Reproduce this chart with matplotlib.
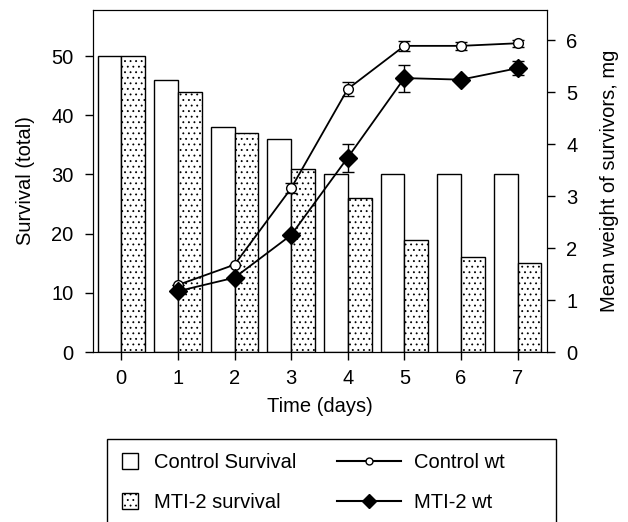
import matplotlib
matplotlib.use("Agg")
import matplotlib.pyplot as plt
from matplotlib.lines import Line2D
from matplotlib.patches import Patch, Rectangle
from matplotlib.legend_handler import HandlerPatch
import numpy as np

plt.rcParams['font.family'] = ['Liberation Sans', 'DejaVu Sans']
plt.rcParams['hatch.linewidth'] = 0.6

days = [0, 1, 2, 3, 4, 5, 6, 7]
control_surv = [50, 46, 38, 36, 30, 30, 30, 30]
mti_surv = [50, 44, 37, 31, 26, 19, 16, 15]

wt_days = [1, 2, 3, 4, 5, 6, 7]
control_wt = [1.29, 1.68, 3.15, 5.06, 5.89, 5.89, 5.94]
control_err = [0.0, 0.0, 0.1, 0.13, 0.1, 0.08, 0.07]
mti_wt = [1.17, 1.43, 2.25, 3.74, 5.27, 5.24, 5.46]
mti_err = [0.0, 0.0, 0.0, 0.27, 0.26, 0.0, 0.14]

FS = 14.5

fig = plt.figure(figsize=(6.28, 5.22), dpi=100)
ax = fig.add_axes([93/628, 1-352/522, (547-93)/628, (352-10)/522])
x = np.array(days)
w = 0.42
ax.bar(x - w/2, control_surv, w, color='white', edgecolor='black', linewidth=1)
ax.bar(x + w/2, mti_surv, w, color='white', edgecolor='black', linewidth=1, hatch='...')
ax.set_xlim(-0.5, 7.52)
ax.set_ylim(0, 57.8)
ax.set_xticks(days)
ax.set_yticks([0, 10, 20, 30, 40, 50])
ax.set_xlabel('Time (days)', fontsize=FS, labelpad=6)
ax.set_ylabel('Survival (total)', fontsize=FS, labelpad=12)
ax.tick_params(axis='y', labelsize=FS, length=5.5, width=1, pad=8.5)
ax.tick_params(axis='x', labelsize=FS, length=5.5, width=1, pad=7)

ax2 = ax.twinx()
ax2.errorbar(wt_days, control_wt, yerr=control_err, color='black', lw=1.3, marker='o',
             ms=7, mfc='white', mec='black', capsize=4, elinewidth=1)
ax2.errorbar(wt_days, mti_wt, yerr=mti_err, color='black', lw=1.3, marker='D',
             ms=9, mfc='black', mec='black', capsize=4, elinewidth=1)
ax2.set_ylim(0, 6.58)
ax2.set_yticks([0, 1, 2, 3, 4, 5, 6])
ax2.set_ylabel('Mean weight of survivors, mg', fontsize=FS, labelpad=16)
ax2.tick_params(labelsize=FS, length=5.5, width=1, pad=8.5)

# legend box, bottom edge runs off the figure
fig.patches.append(Rectangle((107/628, -0.05), (556-107)/628, (522-439)/522 + 0.05,
                             transform=fig.transFigure, fill=False,
                             edgecolor='black', linewidth=1))


def square(legend, orig_handle, xdescent, ydescent, width, height, fontsize):
    s = height
    return Rectangle((-xdescent, -ydescent + (height - s) / 2), s, s)


bar_handles = [Patch(facecolor='white', edgecolor='black'),
               Patch(facecolor='white', edgecolor='black', hatch='...')]
line_handles = [Line2D([], [], color='black', marker='o', ms=5, mfc='white'),
                Line2D([], [], color='black', marker='D', ms=7, mfc='black')]

ymid = 1 - 482.5/522
fig.legend(bar_handles, ['Control Survival', 'MTI-2 survival'],
           loc='center left', bbox_to_anchor=(122/628, ymid),
           fontsize=FS, frameon=False, handlelength=0.85, handleheight=0.85,
           handletextpad=0.75, labelspacing=1.05, borderpad=0, borderaxespad=0,
           handler_map={Patch: HandlerPatch(patch_func=square)})
fig.legend(line_handles, ['Control wt', 'MTI-2 wt'],
           loc='center left', bbox_to_anchor=(337/628, ymid),
           fontsize=FS, frameon=False, handlelength=3.2,
           handletextpad=0.6, labelspacing=1.05, borderpad=0, borderaxespad=0)

fig.savefig('out.png', dpi=100)
